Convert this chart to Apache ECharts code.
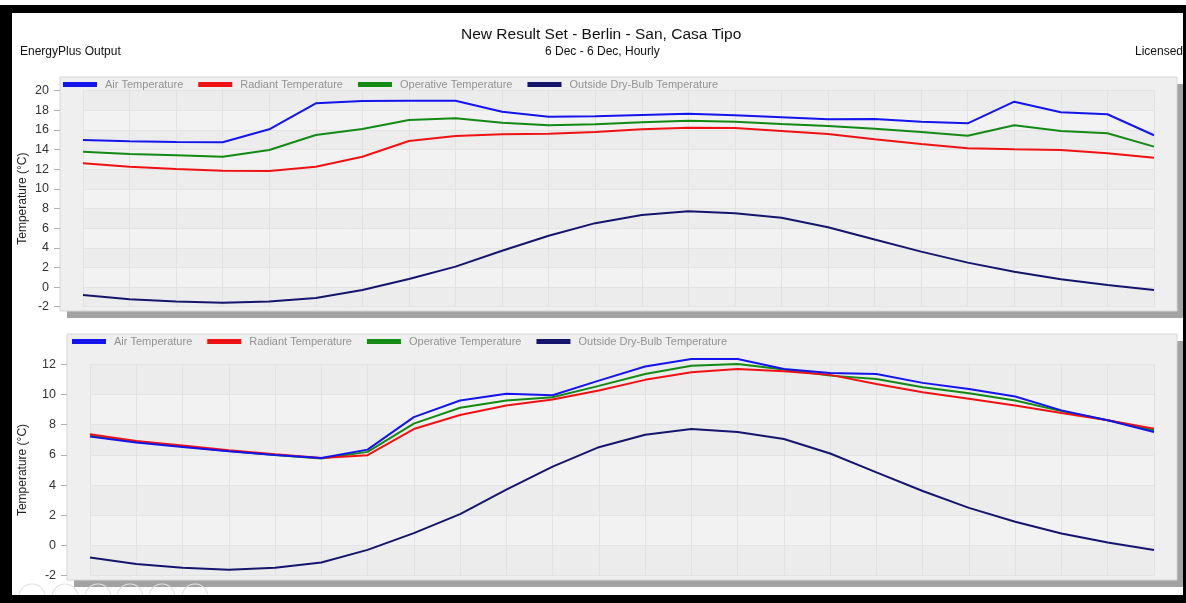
<!DOCTYPE html>
<html>
<head>
<meta charset="utf-8">
<script src="https://cdn.jsdelivr.net/npm/echarts@6/dist/echarts.min.js"></script>
<style>
html,body{margin:0;padding:0;background:#fff;}
#c{width:1186px;height:603px;}
</style>
</head>
<body>
<div id="c"></div>
<script>
// ---- data ----
const hours = ['01:00','02:00','03:00','04:00','05:00','06:00','07:00','08:00','09:00','10:00','11:00','12:00',
               '13:00','14:00','15:00','16:00','17:00','18:00','19:00','20:00','21:00','22:00','23:00','24:00'];
const seriesNames = ['Air Temperature','Radiant Temperature','Operative Temperature','Outside Dry-Bulb Temperature'];

const topAir = [14.98,14.85,14.78,14.75,16.07,18.72,18.95,18.98,18.98,17.86,17.35,17.39,17.53,17.66,17.49,17.29,17.09,17.12,16.84,16.68,18.88,17.8,17.6,15.46];
const topRadiant = [12.61,12.26,12.03,11.85,11.82,12.26,13.28,14.88,15.39,15.56,15.62,15.79,16.07,16.23,16.2,15.9,15.59,15.05,14.57,14.13,14.03,13.96,13.63,13.18];
const topOperative = [13.79,13.55,13.42,13.28,13.96,15.49,16.1,17.02,17.19,16.74,16.48,16.58,16.78,16.95,16.84,16.61,16.41,16.13,15.79,15.42,16.48,15.9,15.66,14.3];

const botAir = [7.21,6.82,6.53,6.24,6.0,5.8,6.35,8.5,9.6,10.05,9.95,10.92,11.85,12.35,12.35,11.69,11.43,11.36,10.77,10.37,9.87,8.95,8.29,7.52];
const botRadiant = [7.36,6.92,6.62,6.31,6.05,5.8,5.98,7.71,8.64,9.27,9.67,10.26,10.97,11.47,11.69,11.54,11.3,10.7,10.15,9.72,9.27,8.77,8.29,7.74];
const botOperative = [7.28,6.88,6.57,6.26,6.0,5.76,6.2,8.07,9.12,9.6,9.82,10.57,11.36,11.91,12.02,11.65,11.25,11.03,10.48,10.09,9.6,8.9,8.29,7.63];

const outsideDryBulb = [-0.8,-1.23,-1.48,-1.6,-1.47,-1.12,-0.29,0.82,2.08,3.7,5.22,6.51,7.33,7.71,7.52,7.05,6.09,4.84,3.61,2.49,1.57,0.8,0.2,-0.3];

const topTicks = {min:-2, max:20, interval:2};
const botTicks = {min:-2, max:12, interval:2};

// ---- style ----
const colors = ['#1414ec','#f01212','#138a13','#15156e'];
const FONT = 'Liberation Sans, Arial, sans-serif';

const chart = echarts.init(document.getElementById('c'), null, {renderer:'canvas'});

function xAxisFor(g){
  return {
    type:'category', gridIndex:g, data:hours, boundaryGap:false,
    axisLine:{show:false}, axisTick:{show:false}, axisLabel:{show:false},
    splitLine:{show:true, lineStyle:{color:'#e2e2e2', width:1}}
  };
}
function yAxisFor(g, t, offset, gap){
  return {
    type:'value', gridIndex:g, min:t.min, max:t.max, interval:t.interval,
    offset:offset,
    name:'Temperature (°C)', nameLocation:'middle', nameGap:gap, nameMoveOverlap:false,
    nameTextStyle:{color:'#222', fontSize:12, fontFamily:FONT},
    axisLine:{show:false},
    axisTick:{show:true, length:6, lineStyle:{color:'#b0b0b0'}},
    axisLabel:{color:'#333', fontSize:12.5, fontFamily:FONT, margin:11},
    splitLine:{show:true, lineStyle:{color:'#e4e4e4'}},
    splitArea:{show:true, areaStyle:{color:['#ececec','#f2f2f2']}}
  };
}
function seriesFor(g, arrs){
  return arrs.map((d,i)=>({
    name:seriesNames[i], type:'line', xAxisIndex:g, yAxisIndex:g, data:d,
    symbol:'none', clip:false, lineStyle:{width:2, color:colors[i]}, itemStyle:{color:colors[i]},
    z: 3 + (3-i)
  }));
}
function legendFor(left, top){
  return {
    left:left, top:top, orient:'horizontal', itemWidth:34, itemHeight:5, itemGap:15,
    icon:'rect', padding:0,
    data:seriesNames,
    textStyle:{color:'#929292', fontSize:11, fontFamily:FONT, padding:[0,0,0,3]}
  };
}
function box(x,y,w,h){
  return [
    {type:'rect', z:-20, shape:{x:x+7,y:y+7,width:w,height:h}, style:{fill:'#a3a3a3'}, silent:true},
    {type:'rect', z:-19, shape:{x:x,y:y,width:w,height:h}, style:{fill:'#efefef', stroke:'#d6d6d6', lineWidth:1}, silent:true}
  ];
}
const icons = [32,65,98,130,162,195].map(cx=>({
  type:'circle', z:50, shape:{cx:cx, cy:597, r:13}, style:{fill:'none', stroke:'#e2e2e2', lineWidth:1.2}, silent:true
}));
const frame = [
  {type:'rect', z:100, shape:{x:0,y:5,width:1186,height:8}, style:{fill:'#000'}, silent:true},
  {type:'rect', z:100, shape:{x:0,y:5,width:12,height:598}, style:{fill:'#000'}, silent:true},
  {type:'rect', z:100, shape:{x:1183,y:5,width:3,height:598}, style:{fill:'#000'}, silent:true},
  {type:'rect', z:100, shape:{x:0,y:595,width:1186,height:8}, style:{fill:'#000'}, silent:true}
];

const option = {
  backgroundColor:'#ffffff',
  animation:false,
  title:[
    {text:'New Result Set - Berlin - San, Casa Tipo', left:461, top:27, padding:0,
     textStyle:{fontSize:15.5, fontWeight:'normal', color:'#111', fontFamily:FONT}},
    {text:'6 Dec - 6 Dec, Hourly', left:545, top:46, padding:0,
     textStyle:{fontSize:12, fontWeight:'normal', color:'#111', fontFamily:FONT}},
    {text:'EnergyPlus Output', left:20, top:46, padding:0,
     textStyle:{fontSize:12, fontWeight:'normal', color:'#111', fontFamily:FONT}},
    {text:'Licensed', right:3, top:46, padding:0,
     textStyle:{fontSize:12, fontWeight:'normal', color:'#111', fontFamily:FONT}}
  ],
  legend:[ legendFor(63, 79), legendFor(72, 336) ],
  grid:[
    {left:83, right:32, top:90.7, height:216},
    {left:90, right:32, top:364.3, height:211.4}
  ],
  xAxis:[ xAxisFor(0), xAxisFor(1) ],
  yAxis:[ yAxisFor(0, topTicks, 23, 31), yAxisFor(1, botTicks, 23, 38) ],
  series:[].concat(
    seriesFor(0, [topAir, topRadiant, topOperative, outsideDryBulb]),
    seriesFor(1, [botAir, botRadiant, botOperative, outsideDryBulb])
  ),
  graphic:[].concat(box(60,77,1117,234), box(67,334,1110,246), icons, frame)
};
chart.setOption(option);
</script>
</body>
</html>
